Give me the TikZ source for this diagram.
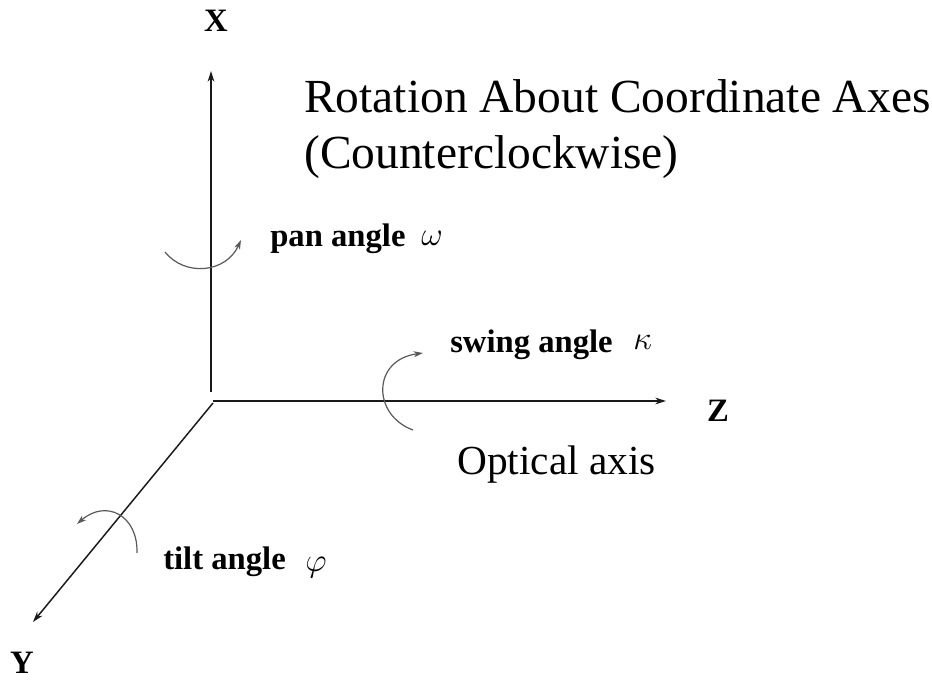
\documentclass[tikz,border=0pt]{standalone}
\usepackage{fontspec}
\setmainfont{Liberation Serif}
\usetikzlibrary{arrows.meta}
\begin{document}
\begin{tikzpicture}[x=0.75pt,y=-0.75pt,
  axis/.style={line width=1.1pt,draw=black!90,-{Stealth[length=8pt,width=5pt,inset=2.5pt]}},
  rotarc/.style={line width=0.9pt,draw=black!65,-{Stealth[length=7pt,width=4.5pt,inset=2pt]}},
  lbl/.style={inner sep=0pt,anchor=base west,font=\fontsize{24.5}{26}\selectfont\bfseries},
  axlbl/.style={inner sep=0pt,anchor=base,font=\fontsize{24.5}{26}\selectfont\bfseries},
  greek/.style={inner sep=0pt,anchor=base west,font=\fontsize{30}{31}\selectfont},
  big/.style={inner sep=0pt,anchor=base west}]
\useasboundingbox (0,0) rectangle (932,680);
% axes
\coordinate (O) at (213,401);
\coordinate (xbot) at (211,392);
\coordinate (xtop) at (211,71);
\coordinate (zend) at (666,401);
\coordinate (ystart) at (213,403);
\coordinate (yend) at (33,622);
\draw[axis] (xbot) -- (xtop);
\draw[axis] (O) -- (zend);
\draw[axis] (ystart) -- (yend);
% axis labels
\node[axlbl] (X) at (216,32) {X};
\node[axlbl] (Z) at (718,422) {Z};
\node[axlbl] (Y) at (22,673) {Y};
% rotation arcs
\coordinate (pan1) at (165,252);
\coordinate (pan2) at (241,240);
\draw[rotarc] (pan1) .. controls (185,277) and (226,273) .. (pan2);
\coordinate (sw1) at (413,430);
\coordinate (sw2) at (423,353);
\draw[rotarc] (sw1) .. controls (372,415) and (372,360) .. (sw2);
\coordinate (ti1) at (137,553);
\coordinate (ti2) at (77,524);
\draw[rotarc] (ti1) .. controls (138,515) and (106,499) .. (ti2);
% labels
\node[lbl] (pan) at (270,247) {pan angle};
\node[greek] (omega) at (421,246) {$\omega$};
\node[lbl] (swing) at (450,353) {swing angle};
\node[greek] (kappa) at (633,350) {$\kappa$};
\node[lbl] (tilt) at (163,570) {tilt angle};
\node[greek] (phi) at (305,571) {$\varphi$};
% titles
\node[big,font=\fontsize{35.6}{40}\selectfont] (t1) at (304,113) {Rotation About Coordinate Axes};
\node[big,font=\fontsize{35.6}{40}\selectfont] (t2) at (304,169) {(Counterclockwise)};
\node[big,font=\fontsize{31}{34}\selectfont] (opt) at (457,475) {Optical axis};
\end{tikzpicture}
\end{document}
